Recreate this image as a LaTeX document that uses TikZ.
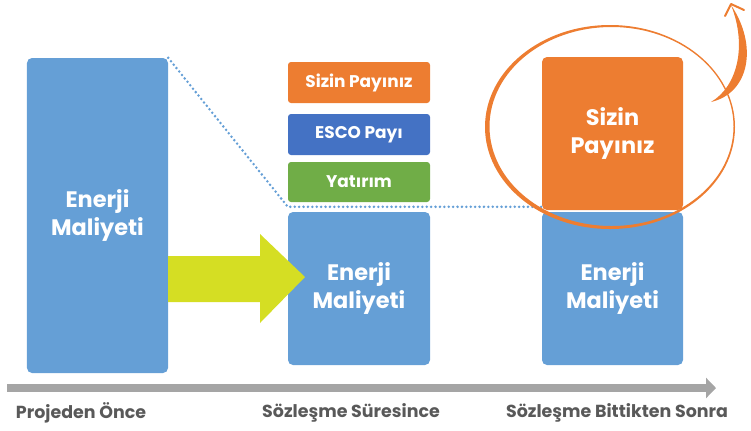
\documentclass[tikz,border=0pt]{standalone}
\usepackage{fontspec}
\setmainfont{Poppins}
\usetikzlibrary{arrows.meta}

\definecolor{boxblue}{HTML}{659FD6}
\definecolor{escoblue}{HTML}{4472C4}
\definecolor{payorange}{HTML}{ED7D31}
\definecolor{invgreen}{HTML}{70AD47}
\definecolor{arrowlime}{HTML}{D5DE23}
\definecolor{axisgray}{HTML}{A5A5A5}
\definecolor{labelgray}{HTML}{595959}

\begin{document}
\begin{tikzpicture}[x=1bp,y=-1bp,
  costbox/.style={fill=boxblue, rounded corners=5bp, inner sep=0pt, minimum width=141bp,
    text=white, font=\bfseries\fontsize{22.5}{27.5}\selectfont, align=center},
  smallbox/.style={rounded corners=3bp, inner sep=0pt, minimum width=142bp, minimum height=41bp,
    text=white, font=\bfseries\fontsize{17}{20}\selectfont},
  phase/.style={text=labelgray, font=\bfseries\fontsize{17.5}{20}\selectfont, inner sep=0pt}]
\useasboundingbox (0,0) rectangle (751,430);
% columns
\node[costbox, minimum height=315bp] (before) at (97.5,215.5) {Enerji\\Maliyeti};
\node[smallbox, fill=payorange] (share) at (359,82.5) {Sizin Payınız};
\node[smallbox, fill=escoblue] (esco) at (359,134.5) {ESCO Payı};
\node[smallbox, fill=invgreen, minimum height=40bp] (invest) at (359,182) {Yatırım};
\node[costbox, minimum width=142bp, minimum height=153bp] (during) at (359,288.5) {Enerji\\Maliyeti};
\node[costbox, minimum height=153bp] (after) at (612.5,288.5) {Enerji\\Maliyeti};
\node[costbox, fill=payorange, minimum height=153bp] (saving) at (612.5,133.5) {Sizin\\Payınız};
% dotted guide
\coordinate (guide) at ([yshift=5bp]during.north west);
\draw[boxblue, line width=2.8bp, line cap=round, dash pattern=on 0pt off 4.4bp]
  (before.north east) -- (guide) -- (guide -| saving.west);
% big arrow
\fill[arrowlime] (before.east |- 0,256) -- (260,256) -- (260,234) -- (305,277)
  -- (260,323) -- (260,302) -- (before.east |- 0,302) -- cycle;
% time axis
\coordinate (t0) at (7,388);
\coordinate (t1) at (716,388);
\draw[axisgray, line width=8bp, -{Triangle[length=10bp, width=20bp]}] (t0) -- (t1);
\node[phase] (p1) at (81,413) {Projeden Önce};
\node[phase] (p2) at (351,413) {Sözleşme Süresince};
\node[phase] (p3) at (617,413) {Sözleşme Bittikten Sonra};
% highlight ring
\fill[payorange, even odd rule] (610,127) ellipse [x radius=125, y radius=102]
  (611.5,126.5) ellipse [x radius=122, y radius=99.5];
\fill[payorange] (711,102) .. controls (750,93) and (758,45) .. (731,5)
  .. controls (747,45) and (738,86) .. (711,102) -- cycle;
\draw[payorange, line width=2bp, line join=round, line cap=round] (725,16) -- (731,4) -- (744,10);
\end{tikzpicture}
\end{document}
